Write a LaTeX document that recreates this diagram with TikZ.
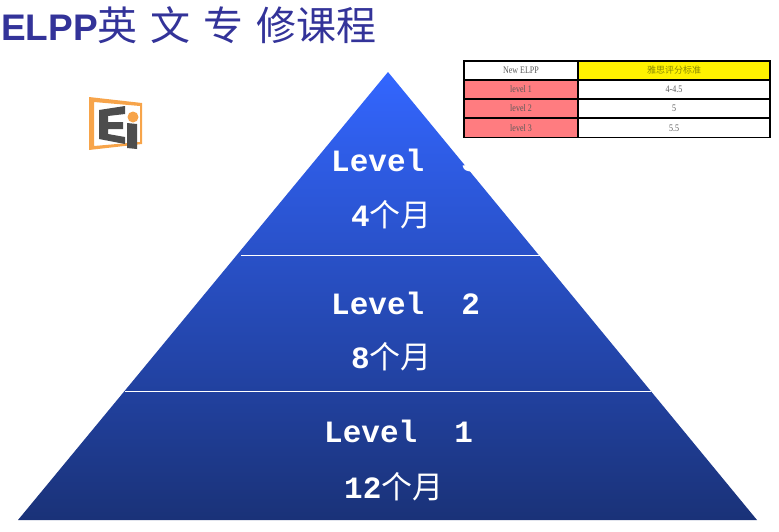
\documentclass[tikz,border=0pt]{standalone}
\usepackage{fontspec}
\setmainfont{Liberation Sans}
\setmonofont{Liberation Mono}
\newfontfamily\cjk{Noto Sans CJK SC}
\newfontfamily\cellfont[FakeStretch=0.8]{Liberation Serif}
\definecolor{titleblue}{HTML}{333399}
\definecolor{pyrtop}{HTML}{3366FF}
\definecolor{pyrbot}{HTML}{1A3278}
\definecolor{cellred}{HTML}{FF7C80}
\definecolor{cellink}{HTML}{5A5A5A}
\definecolor{cellolive}{HTML}{8A8A00}
\definecolor{logoorange}{HTML}{F7A44A}
\definecolor{logogrey}{HTML}{4D4D4D}
\tikzset{
    leveltext/.style={anchor=west,inner sep=0pt,text=white,font=\ttfamily\bfseries\fontsize{31}{31}\selectfont},
    monthtext/.style={leveltext},
    cellbox/.style={draw=black,line width=1.2pt,minimum height=19pt,inner sep=0pt,text=cellink,font=\cellfont\fontsize{10}{10}\selectfont},
    namecell/.style={cellbox,minimum width=114pt},
    valuecell/.style={cellbox,minimum width=192pt},
    divider/.style={draw=white,line width=1pt}
}
\begin{document}
\begin{tikzpicture}[x=1pt,y=-1pt]
    \useasboundingbox (0,0) rectangle (779,531);
    \coordinate (apex) at (388,72);
    \coordinate (baseL) at (18,520);
    \coordinate (baseR) at (757,520);
    \coordinate (div1L) at (241,255);
    \coordinate (div1R) at (541,255);
    \coordinate (div2L) at (125,391);
    \coordinate (div2R) at (651,391);
    \shade[top color=pyrtop,bottom color=pyrbot] (apex) -- (baseR) -- (baseL) -- cycle;
    \draw[divider] (div1L) -- (div1R);
    \draw[divider] (div2L) -- (div2R);
    \node [anchor=west,inner sep=0pt,text=titleblue,font=\bfseries\fontsize{37}{37}\selectfont] (title) at (1,25)
        {ELPP{\cjk\mdseries\fontsize{40}{40}\selectfont 英\hspace{13pt}文\hspace{13pt}专\hspace{13pt}修课程}};
    \node [leveltext] (lv3) at (331,160) {Level~~3};
    \node [monthtext] (m3)  at (351,215) {4{\cjk\mdseries 个月}};
    \node [leveltext] (lv2) at (331,303) {Level~~2};
    \node [monthtext] (m2)  at (351,357) {8{\cjk\mdseries 个月}};
    \node [leveltext] (lv1) at (324,431) {Level~~1};
    \node [monthtext] (m1)  at (344,487) {12{\cjk\mdseries 个月}};
    \node [namecell] (c00) at (521,70.5) {New ELPP};
    \node [valuecell,fill=yellow,text=cellolive] (c01) at (674,70.5) {\cjk\fontsize{9}{9}\selectfont 雅思评分标准};
    \node [namecell,fill=cellred] (c10) at (521,89.5) {level 1};
    \node [valuecell] (c11) at (674,89.5) {4-4.5};
    \node [namecell,fill=cellred] (c20) at (521,108.5) {level 2};
    \node [valuecell] (c21) at (674,108.5) {5};
    \node [namecell,fill=cellred] (c30) at (521,128) {level 3};
    \node [valuecell] (c31) at (674,128) {5.5};
    \fill[logoorange,even odd rule] (89,97) -- (142,103) -- (142,144) -- (89,150) -- cycle
        (94,102) -- (140,106) -- (140,142) -- (94,146) -- cycle;
    \fill[logogrey] (99,110) -- (125,106) -- (125,114) -- (108,116) -- (108,122) -- (123,122) -- (123,129)
        -- (108,129) -- (108,134) -- (125,137) -- (125,144) -- (99,139) -- cycle;
    \fill[logoorange] (133,117) circle (5.5);
    \fill[logogrey] (127,123) -- (137,124) -- (137,149) -- (127,148) -- cycle;
\end{tikzpicture}
\end{document}
